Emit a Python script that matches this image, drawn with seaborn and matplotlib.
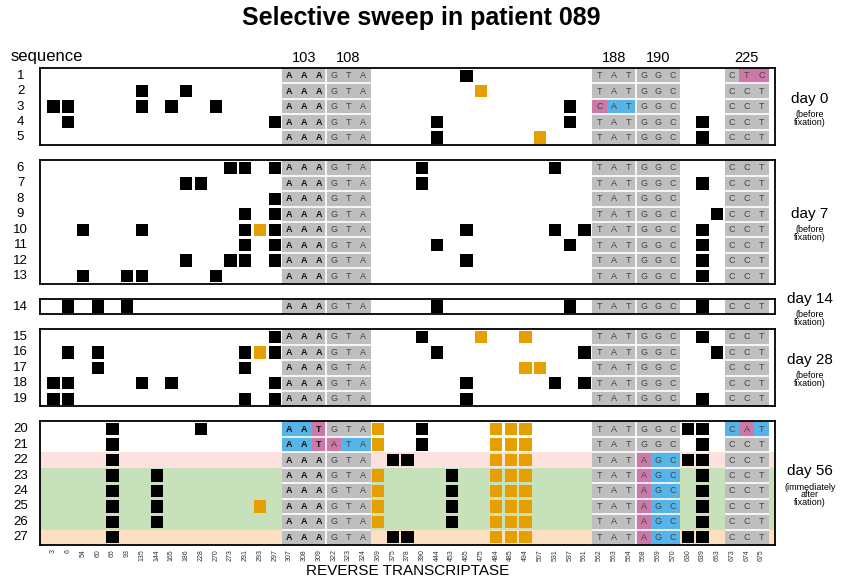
import numpy as np
import pandas as pd
import matplotlib
matplotlib.use('Agg')
import matplotlib.pyplot as plt
import seaborn as sns
from matplotlib.colors import ListedColormap

# ---------------- data ----------------
positions = [3, 6, 54, 60, 66, 93, 135, 144, 165, 186, 228, 270, 273, 291, 293, 297,
             307, 308, 309, 322, 323, 324, 369, 375, 378, 390, 444, 453, 465, 475,
             484, 485, 494, 507, 531, 537, 561, 562, 563, 564, 568, 569, 570, 630,
             639, 663, 673, 674, 675]

row_numbers = list(range(1, 28))

codon_numbers = [103, 108, 188, 190, 225]
codon_sites = [[307, 308, 309], [322, 323, 324], [562, 563, 564], [568, 569, 570], [673, 674, 675]]
codon_reference = ['AAA', 'GTA', 'TAT', 'GGC', 'CCT']
codon_resistant = ['AAT', 'ATA', 'CAT', 'AGC', 'CAT']

codon103 = ['AAA', 'AAA', 'AAA', 'AAA', 'AAA', 'AAA', 'AAA', 'AAA', 'AAA', 'AAA',
            'AAA', 'AAA', 'AAA', 'AAA', 'AAA', 'AAA', 'AAA', 'AAA', 'AAA', 'AAT',
            'AAT', 'AAA', 'AAA', 'AAA', 'AAA', 'AAA', 'AAA']
codon108 = ['GTA', 'GTA', 'GTA', 'GTA', 'GTA', 'GTA', 'GTA', 'GTA', 'GTA', 'GTA',
            'GTA', 'GTA', 'GTA', 'GTA', 'GTA', 'GTA', 'GTA', 'GTA', 'GTA', 'GTA',
            'ATA', 'GTA', 'GTA', 'GTA', 'GTA', 'GTA', 'GTA']
codon188 = ['TAT', 'TAT', 'CAT', 'TAT', 'TAT', 'TAT', 'TAT', 'TAT', 'TAT', 'TAT',
            'TAT', 'TAT', 'TAT', 'TAT', 'TAT', 'TAT', 'TAT', 'TAT', 'TAT', 'TAT',
            'TAT', 'TAT', 'TAT', 'TAT', 'TAT', 'TAT', 'TAT']
codon190 = ['GGC', 'GGC', 'GGC', 'GGC', 'GGC', 'GGC', 'GGC', 'GGC', 'GGC', 'GGC',
            'GGC', 'GGC', 'GGC', 'GGC', 'GGC', 'GGC', 'GGC', 'GGC', 'GGC', 'GGC',
            'GGC', 'AGC', 'AGC', 'AGC', 'AGC', 'AGC', 'AGC']
codon225 = ['CTC', 'CCT', 'CCT', 'CCT', 'CCT', 'CCT', 'CCT', 'CCT', 'CCT', 'CCT',
            'CCT', 'CCT', 'CCT', 'CCT', 'CCT', 'CCT', 'CCT', 'CCT', 'CCT', 'CAT',
            'CCT', 'CCT', 'CCT', 'CCT', 'CCT', 'CCT', 'CCT']

black_sites = [
    [465],
    [135, 186],
    [3, 6, 135, 165, 270, 537],
    [6, 297, 444, 537, 639],
    [444, 639],
    [273, 291, 297, 390, 531],
    [186, 228, 390, 639],
    [297],
    [291, 297, 663],
    [54, 135, 291, 297, 465, 531, 561, 639],
    [291, 297, 444, 537, 639],
    [186, 273, 291, 297, 465, 639],
    [54, 93, 135, 270, 639],
    [6, 60, 93, 444, 537, 639],
    [297, 390, 639],
    [6, 60, 291, 297, 444, 561, 663],
    [60, 291],
    [3, 6, 135, 165, 297, 465, 531, 561],
    [3, 6, 291, 297, 465, 639],
    [66, 228, 390, 630, 639],
    [66, 390, 639],
    [66, 375, 378, 630, 639],
    [66, 144, 453, 639],
    [66, 144, 453, 639],
    [66, 144, 453, 639],
    [66, 144, 453, 639],
    [66, 375, 378, 630, 639],
]
orange_sites = [
    [], [475], [], [], [507],
    [], [], [], [], [293], [], [], [],
    [],
    [475, 494], [293], [494, 507], [], [],
    [369, 484, 485, 494], [369, 484, 485, 494], [484, 485, 494],
    [369, 484, 485, 494], [369, 484, 485, 494], [293, 369, 484, 485, 494],
    [369, 484, 485, 494], [484, 485, 494],
]

row_background = ['white'] * 21 + ['pink'] + ['green'] * 4 + ['peach']

panel_sizes = [5, 8, 1, 5, 8]
panel_days = ['day 0', 'day 7', 'day 14', 'day 28', 'day 56']
panel_notes = ['(before\nfixation)', '(before\nfixation)', '(before\nfixation)',
               '(before\nfixation)', '(immediately\nafter\nfixation)']

# ---------------- style ----------------
plt.rcParams['font.family'] = ['Liberation Sans', 'DejaVu Sans']
GRAY, BLUE, PINK = '#BEBEBE', '#56B4E9', '#CC79A7'
BLACK, ORANGE = '#000000', '#E69F00'
BG = {'pink': '#FCE1DF', 'green': '#C7E2BA', 'peach': '#FDDFC1'}

codon_rows = [codon103, codon108, codon188, codon190, codon225]
ncol = len(positions)
nrow = len(row_numbers)
col_index = {p: i for i, p in enumerate(positions)}

codes = np.full((nrow, ncol), np.nan)
letters = np.full((nrow, ncol), '', dtype=object)
for r in range(nrow):
    for k in range(len(codon_numbers)):
        seq = codon_rows[k][r]
        base = 1 if seq == codon_resistant[k] else 0
        for j, site in enumerate(codon_sites[k]):
            c = col_index[site]
            codes[r, c] = 2 if seq[j] != codon_reference[k][j] else base
            letters[r, c] = seq[j]

fig = plt.figure(figsize=(8.42, 5.82), dpi=100)
L, R, T, B = 40 / 842, 775 / 842, 1 - 68 / 582, 1 - 545 / 582
gs = fig.add_gridspec(len(panel_sizes), 1, height_ratios=panel_sizes,
                      left=L, right=R, top=T, bottom=B, hspace=0.18)

XPAD = 0.41
cell_px = (R - L) * 842 / (ncol + 2 * XPAD)
side_pt = 0.83 * cell_px * 72 / 100
msize = side_pt ** 2

cmap = ListedColormap([GRAY, BLUE, PINK])
r0 = 0
for p, n in enumerate(panel_sizes):
    ax = fig.add_subplot(gs[p])
    rows = list(range(r0, r0 + n))
    for i, r in enumerate(rows):
        if row_background[r] != 'white':
            ax.axhspan(i, i + 1, color=BG[row_background[r]], lw=0, zorder=0)
    sub = codes[r0:r0 + n]
    last = p == len(panel_sizes) - 1
    sns.heatmap(sub, mask=np.isnan(sub), cmap=cmap, vmin=-0.5, vmax=2.5, cbar=False,
                annot=letters[r0:r0 + n], fmt='',
                annot_kws={'fontsize': 6.5, 'color': '#444444'},
                xticklabels=[str(x) for x in positions] if last else False,
                yticklabels=[str(row_numbers[r]) for r in rows], ax=ax)
    for t in ax.texts:
        c = int(t.get_position()[0])
        if positions[c] in codon_sites[0]:
            t.set_fontweight('bold')
            t.set_color('#111111')
    # white separators in codon blocks
    prev_end = None
    for sites in codon_sites:
        c0, c1 = col_index[sites[0]], col_index[sites[-1]] + 1
        if n > 1:
            ax.hlines(np.arange(1, n), c0, c1, color='white', lw=1.2, zorder=3)
        if prev_end == c0:
            ax.vlines(c0, 0, n, color='white', lw=1.2, zorder=3)
        prev_end = c1
    # mutation squares
    recs = []
    for i, r in enumerate(rows):
        for s in black_sites[r]:
            recs.append({'x': col_index[s] + 0.5, 'y': i + 0.5, 'kind': 'black'})
        for s in orange_sites[r]:
            recs.append({'x': col_index[s] + 0.5, 'y': i + 0.5, 'kind': 'orange'})
    df = pd.DataFrame(recs)
    if len(df):
        sns.scatterplot(data=df, x='x', y='y', hue='kind',
                        palette={'black': BLACK, 'orange': ORANGE}, marker='s',
                        s=msize, linewidth=0, legend=False, ax=ax, zorder=4)
    ax.set_xlim(-XPAD, ncol + XPAD)
    ax.set_ylim(n, 0)
    ax.set_xlabel('')
    ax.set_ylabel('')
    for s in ax.spines.values():
        s.set_visible(True)
        s.set_color('black')
        s.set_linewidth(1.3)
        s.set_zorder(6)
    ax.tick_params(length=0)
    ax.tick_params(axis='y', pad=14)
    for lab in ax.get_yticklabels():
        lab.set_rotation(0)
        lab.set_ha('center')
        lab.set_fontsize(9.5)
    if last:
        for lab in ax.get_xticklabels():
            lab.set_rotation(90)
            lab.set_fontsize(5)
            lab.set_color('#333333')
        ax.tick_params(axis='x', pad=3)
        ax.set_xlabel('REVERSE TRANSCRIPTASE', fontsize=11, labelpad=2)
    if p == 0:
        for k, sites in enumerate(codon_sites):
            ax.annotate(str(codon_numbers[k]), xy=(col_index[sites[1]] + 0.5, 1),
                        xycoords=('data', 'axes fraction'), xytext=(0, 2),
                        textcoords='offset points', ha='center', va='bottom', fontsize=10.5)
        ax.annotate('sequence', xy=(0, 1), xycoords='axes fraction', xytext=(5, 3),
                    textcoords='offset points', ha='center', va='bottom', fontsize=12)
    # right-side day labels
    nl = panel_notes[p].count('\n') + 1
    H = 11 + 2 + 6 * nl
    top = H / 2 - 2
    ax.annotate(panel_days[p], xy=(1, 0.5), xycoords='axes fraction', xytext=(25, top),
                textcoords='offset points', ha='center', va='top', fontsize=11,
                annotation_clip=False)
    ax.annotate(panel_notes[p], xy=(1, 0.5), xycoords='axes fraction',
                xytext=(25, top - 13), textcoords='offset points', ha='center', va='top',
                fontsize=6.5, linespacing=0.8, annotation_clip=False)
    r0 += n

fig.suptitle('Selective sweep in patient 089', fontsize=18, fontweight='bold',
             y=1 - 18 / 582, va='center')
fig.savefig('out.png', dpi=100)
